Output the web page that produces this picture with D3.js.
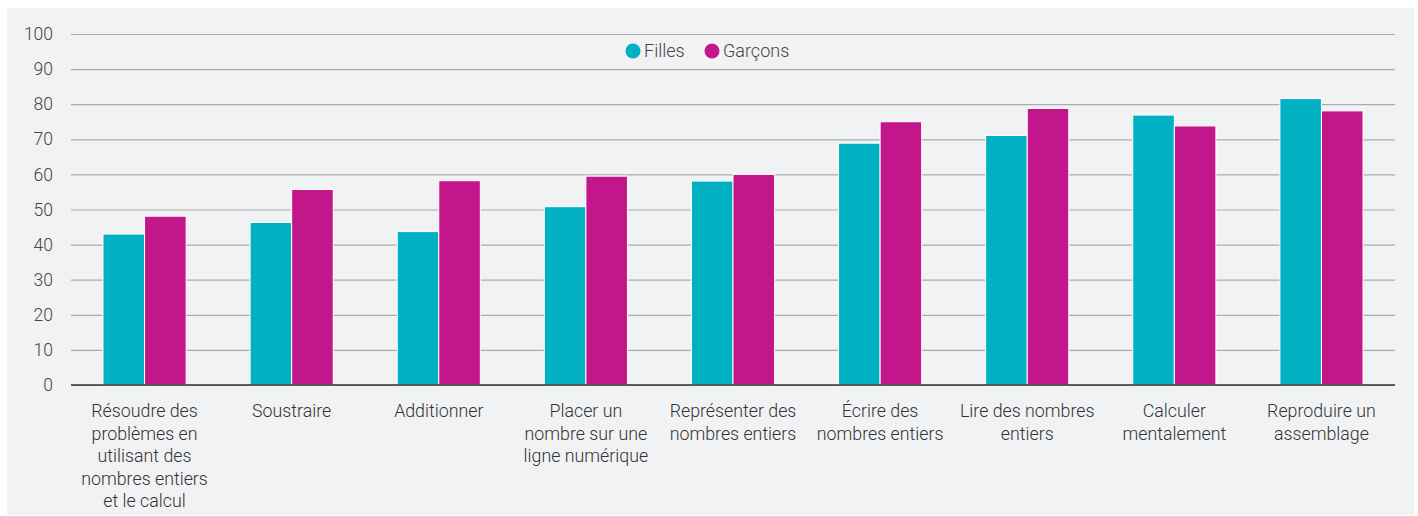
<!DOCTYPE html>
<html>
<head>
<meta charset="utf-8">
<script src="https://cdn.jsdelivr.net/npm/d3@7"></script>
<style>
  body { margin: 0; background: #ffffff; }
  svg { display: block; font-family: Roboto, "Noto Sans", sans-serif; font-weight: 300; }
</style>
</head>
<body>
<svg id="chart" width="1418" height="516"></svg>
<script>
var categories = [
  ["Résoudre des", "problèmes en", "utilisant des", "nombres entiers", "et le calcul"],
  ["Soustraire"],
  ["Additionner"],
  ["Placer un", "nombre sur une", "ligne numérique"],
  ["Représenter des", "nombres entiers"],
  ["Écrire des", "nombres entiers"],
  ["Lire des nombres", "entiers"],
  ["Calculer", "mentalement"],
  ["Reproduire un", "assemblage"]
];
var seriesNames = ["Filles", "Garçons"];
var filles = [43.0, 46.3, 43.7, 50.8, 58.1, 68.9, 71.1, 76.9, 81.6];
var garcons = [48.1, 55.7, 58.2, 59.5, 60.0, 75.0, 78.8, 73.8, 78.1];
var yTicks = [0, 10, 20, 30, 40, 50, 60, 70, 80, 90, 100];
var colors = ["#00b0c3", "#c4168b"];

var svg = d3.select("#chart");

// panel background
svg.append("rect")
  .attr("x", 7).attr("y", 8)
  .attr("width", 1407).attr("height", 507)
  .attr("fill", "#f1f2f4");

var margin = { left: 71, right: 1395, top: 34, bottom: 385 };

var x = d3.scaleBand()
  .domain(d3.range(categories.length))
  .range([margin.left, margin.right])
  .paddingInner(0.435)
  .paddingOuter(0.2175);

var x1 = d3.scaleBand()
  .domain(d3.range(seriesNames.length))
  .range([0, x.bandwidth()]);

var y = d3.scaleLinear()
  .domain([0, 100])
  .range([margin.bottom, margin.top]);

// gridlines + tick labels
var yAxis = d3.axisLeft(y)
  .tickValues(yTicks)
  .tickSize(-(margin.right - margin.left))
  .tickPadding(18);

var gy = svg.append("g")
  .attr("transform", "translate(" + margin.left + ",0)")
  .call(yAxis);
gy.select(".domain").remove();
gy.selectAll(".tick line")
  .attr("stroke", "#ababab")
  .attr("stroke-width", 1.2);
gy.selectAll(".tick text")
  .attr("fill", "#444")
  .style("font-size", "17.5px")
  .style("font-weight", "300")
  .style("font-family", "Roboto, sans-serif");

// bars
var data = categories.map(function (c, i) {
  return { i: i, values: [filles[i], garcons[i]] };
});

var groups = svg.selectAll(".group")
  .data(data)
  .enter().append("g")
  .attr("class", "group")
  .attr("transform", function (d) { return "translate(" + x(d.i) + ",0)"; });

groups.selectAll("rect")
  .data(function (d) { return d.values.map(function (v, k) { return { k: k, v: v }; }); })
  .enter().append("rect")
  .attr("x", function (d) { return x1(d.k); })
  .attr("y", function (d) { return y(d.v); })
  .attr("width", x1.bandwidth())
  .attr("height", function (d) { return y(0) - y(d.v); })
  .attr("fill", function (d) { return colors[d.k]; })
  .attr("stroke", "#ffffff")
  .attr("stroke-width", 1);

// x axis baseline
svg.append("line")
  .attr("x1", margin.left).attr("x2", margin.right)
  .attr("y1", y(0)).attr("y2", y(0))
  .attr("stroke", "#333")
  .attr("stroke-width", 1.5);

// category labels
var labels = svg.selectAll(".cat")
  .data(categories)
  .enter().append("text")
  .attr("class", "cat")
  .attr("text-anchor", "middle")
  .attr("fill", "#333")
  .style("font-size", "17.8px");

labels.selectAll("tspan")
  .data(function (d, i) { return d.map(function (t) { return { t: t, i: i }; }); })
  .enter().append("tspan")
  .attr("x", function (d) { return x(d.i) + x.bandwidth() / 2; })
  .attr("y", function (d, j) { return 417 + j * 22.6; })
  .text(function (d) { return d.t; });

// legend
var legendX = [633, 712];
var legend = svg.selectAll(".legend")
  .data(seriesNames)
  .enter().append("g")
  .attr("class", "legend")
  .attr("transform", function (d, i) { return "translate(" + legendX[i] + ",51)"; });

legend.append("circle")
  .attr("r", 7.5)
  .attr("fill", function (d, i) { return colors[i]; });

legend.append("text")
  .attr("x", 11)
  .attr("y", 6)
  .attr("fill", "#444")
  .style("font-size", "18px")
  .text(function (d) { return d; });
</script>
</body>
</html>
